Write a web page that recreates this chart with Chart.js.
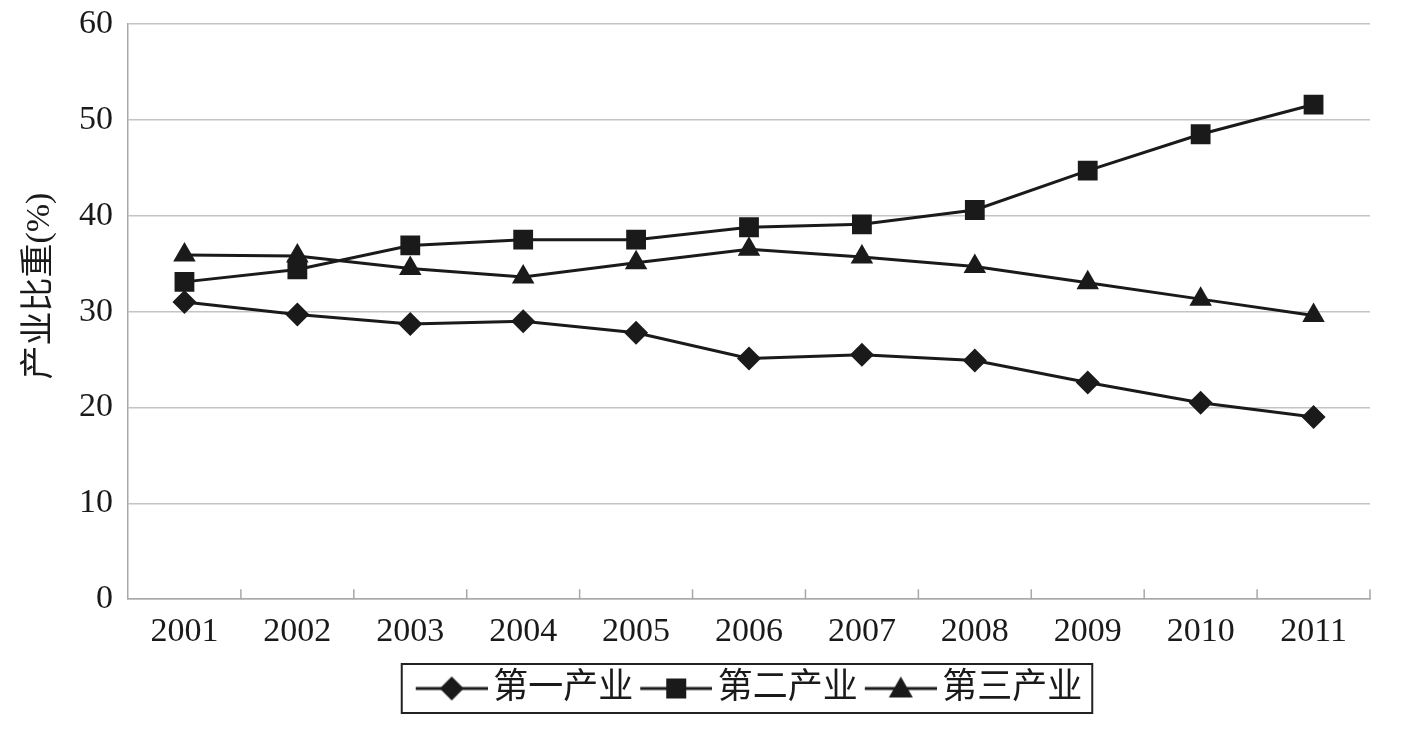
<!DOCTYPE html>
<html>
<head>
<meta charset="utf-8">
<script src="https://cdn.jsdelivr.net/npm/chart.js@4"></script>
<style>
  html, body { margin: 0; padding: 0; background: #fff; }
  #wrap { width: 1406px; height: 739px; }
</style>
</head>
<body>
<div id="wrap"><canvas id="industryChart"></canvas></div>
<script>
const years = ['2001', '2002', '2003', '2004', '2005', '2006', '2007', '2008', '2009', '2010', '2011'];
const primary = [31.0, 29.7, 28.7, 29.0, 27.8, 25.1, 25.5, 24.9, 22.6, 20.5, 19.0];
const secondary = [33.1, 34.4, 36.9, 37.5, 37.5, 38.8, 39.1, 40.6, 44.7, 48.5, 51.6];
const tertiary = [35.9, 35.8, 34.5, 33.6, 35.1, 36.5, 35.7, 34.7, 33.0, 31.3, 29.6];
const seriesNames = ['第一产业', '第二产业', '第三产业'];
const yTicks = [0, 10, 20, 30, 40, 50, 60];

const ink = '#1a1a1a';
const fontFamily = '"Liberation Serif", "Times New Roman", "Noto Sans CJK SC", serif';

// 图例用的 "线 + 标记" 小图
function legendIcon(style) {
    const c = document.createElement('canvas');
    c.width = 84;
    c.height = 30;
    const g = c.getContext('2d');
    g.strokeStyle = ink;
    g.fillStyle = ink;
    g.lineWidth = 3;
    g.beginPath();
    g.moveTo(12, 15);
    g.lineTo(84, 15);
    g.stroke();
    const cx = 48, cy = 15;
    g.beginPath();
    if (style === 'rectRot') {
        g.moveTo(cx - 12, cy); g.lineTo(cx, cy - 12); g.lineTo(cx + 12, cy); g.lineTo(cx, cy + 12);
    } else if (style === 'rect') {
        g.rect(cx - 10, cy - 10, 20, 20);
    } else {
        g.moveTo(cx, cy - 12); g.lineTo(cx + 12, cy + 9); g.lineTo(cx - 12, cy + 9);
    }
    g.closePath();
    g.fill();
    return c;
}

// 图例外框 + x 轴向上的刻度
const decorations = {
    id: 'decorations',
    afterDraw(chart) {
        const ctx = chart.ctx;
        const lg = chart.legend;
        if (lg && lg.legendHitBoxes.length) {
            const boxes = lg.legendHitBoxes;
            const left = Math.min(...boxes.map(b => b.left)) - 14;
            const right = Math.max(...boxes.map(b => b.left + b.width)) + 10;
            const top = Math.min(...boxes.map(b => b.top)) - 7;
            const bottom = Math.max(...boxes.map(b => b.top + b.height)) + 7;
            ctx.save();
            ctx.strokeStyle = '#222';
            ctx.lineWidth = 2;
            ctx.strokeRect(left, top, right - left, bottom - top);
            ctx.restore();
        }
        const x = chart.scales.x;
        const step = x.getPixelForValue(1) - x.getPixelForValue(0);
        ctx.save();
        ctx.strokeStyle = '#a8a8a8';
        ctx.lineWidth = 1.5;
        ctx.beginPath();
        for (let i = 1; i <= years.length; i++) {
            const px = x.getPixelForValue(i) - step / 2;
            ctx.moveTo(px, x.top);
            ctx.lineTo(px, x.top - 10);
        }
        ctx.stroke();
        ctx.restore();
    }
};

const styles = ['rectRot', 'rect', 'triangle'];
const radii = [12, 14, 13];
const values = [primary, secondary, tertiary];

const ctx = document.getElementById('industryChart').getContext('2d');
new Chart(ctx, {
    type: 'line',
    data: {
        labels: years,
        datasets: values.map((v, i) => ({
            label: seriesNames[i],
            data: v,
            borderColor: ink,
            backgroundColor: ink,
            borderWidth: 3,
            pointStyle: styles[i],
            pointRadius: radii[i],
            pointBorderWidth: 0,
            fill: false,
            tension: 0
        }))
    },
    options: {
        responsive: true,
        maintainAspectRatio: false,
        animation: false,
        layout: { padding: { left: 14, right: 36, top: 24, bottom: 23 } },
        plugins: {
            tooltip: { enabled: false },
            legend: {
                position: 'bottom',
                fullSize: false,
                labels: {
                    usePointStyle: true,
                    pointStyleWidth: 60,
                    padding: 7,
                    color: ink,
                    font: { family: fontFamily, size: 35 },
                    generateLabels(chart) {
                        return chart.data.datasets.map((ds, i) => ({
                            text: ds.label,
                            pointStyle: legendIcon(styles[i]),
                            fillStyle: ink,
                            strokeStyle: ink,
                            lineWidth: 0,
                            fontColor: ink,
                            datasetIndex: i,
                            hidden: false
                        }));
                    }
                }
            }
        },
        scales: {
            x: {
                offset: true,
                grid: { display: false, drawTicks: false },
                border: { color: '#a8a8a8', width: 1.5 },
                ticks: {
                    color: ink,
                    padding: 12,
                    font: { family: fontFamily, size: 34 }
                }
            },
            y: {
                min: 0,
                max: 60,
                afterBuildTicks(scale) {
                    scale.ticks = yTicks.map(v => ({ value: v }));
                },
                afterFit(scale) {
                    scale.width = 114;
                    scale.paddingTop = 0;
                    scale.paddingBottom = 0;
                },
                grid: { color: '#c4c4c4', lineWidth: 1.5, drawTicks: false },
                border: { color: '#a8a8a8', width: 1.5 },
                title: {
                    display: true,
                    text: '      产业比重(%)',
                    color: ink,
                    padding: { top: 6, bottom: 4 },
                    font: { family: fontFamily, size: 34 }
                },
                ticks: {
                    color: ink,
                    padding: 15,
                    font: { family: fontFamily, size: 34 }
                }
            }
        }
    },
    plugins: [decorations]
});
</script>
</body>
</html>
